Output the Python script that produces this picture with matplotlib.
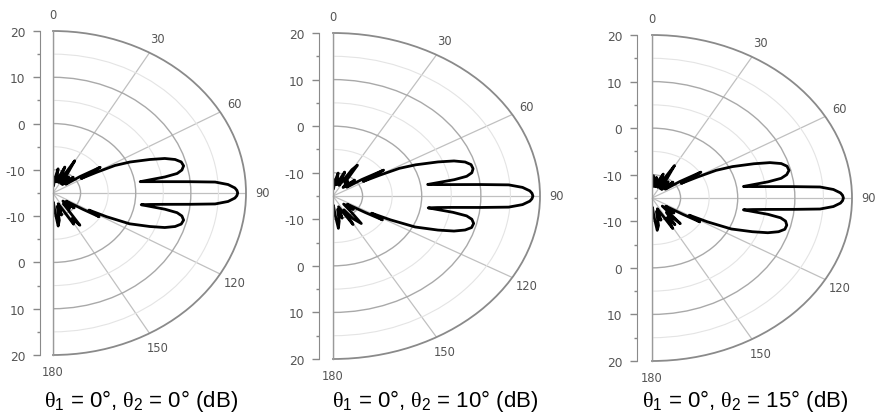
import numpy as np
import matplotlib
matplotlib.use('Agg')
import matplotlib.pyplot as plt

plt.rcParams['font.family'] = ['Liberation Sans', 'DejaVu Sans']
plt.rcParams['mathtext.fontset'] = 'custom'
plt.rcParams['mathtext.rm'] = 'Liberation Sans'
plt.rcParams['mathtext.it'] = 'Liberation Serif'

# angle (deg) of each point, shared by the three panels
angle_deg = [0, 3, 6, 10, 14, 17, 21, 24, 27, 29.5, 32, 35, 39, 43, 47, 51, 54, 57,
             58.5, 60.5, 62.1, 64.4, 67.6, 69.8, 71.9, 73.9, 76.1, 78.0, 79.4, 80.3,
             81.2, 82.1, 83.0, 84.4, 85.4, 86.7, 88.1, 89, 90, 91, 91.9, 93.3, 94.6,
             95.6, 97.0, 98.0, 99.0, 99.8, 100.7, 102.0, 103.9, 106.1, 108.1, 110.2,
             112.4, 115.6, 117.8, 119.5, 121.5, 123, 126, 130, 134, 138, 141, 145,
             148, 151, 154, 158, 162, 165, 169, 172.5, 175, 178, 180]

gain_db_0 = [-11.6, -13.5, -12, -9.7, -12.5, -11.5, -9, -12.5, -11, -7, -10, -12.5,
             -10.5, -12.5, -10, -12, -9, -4.8, -9, -5.9, -2.3, 0.5, 4.0, 6.6, 8.3,
             9.2, 9.4, 8.9, 7.9, 5.6, 1.0, 2.8, 5.1, 10.0, 14.5, 16.8, 18.0, 18.35,
             18.5, 18.35, 18.0, 16.8, 14.5, 10.0, 5.1, 2.8, 1.2, 5.6, 7.9, 8.9, 9.4,
             9.2, 8.3, 6.6, 4.0, 0.4, -4, -7.5, -5.2, -8.5, -12, -10, -12.5, -10.5,
             -12, -6.5, -8.5, -7.3, -11, -12.5, -10, -12, -9, -7.8, -11, -13, -12.5]

gain_db_10 = [-11.5, -13.5, -11.8, -10, -12.5, -11.5, -9.5, -12.5, -11.5, -8.5, -7.2,
              -11.5, -11, -12.5, -10, -12, -9, -4.8, -9, -5.9, -2.3, 0.5, 4.2, 6.8,
              8.5, 9.3, 9.4, 9.0, 8.0, 5.8, 1.2, 2.8, 5.1, 10.2, 14.8, 17.1, 18.3,
              18.65, 18.8, 18.65, 18.3, 17.1, 14.8, 10.2, 5.1, 2.8, 1.3, 5.6, 8.0,
              9.0, 9.5, 9.4, 8.5, 6.8, 4.2, 0.4, -4, -7.5, -5.2, -8.5, -12, -10.5,
              -12.5, -10.5, -7.4, -9, -11.5, -8, -11, -12.5, -10, -12, -9.5, -8, -11,
              -13, -12.5]

gain_db_15 = [-11.5, -10.2, -12.5, -10.5, -12.5, -11, -9.5, -12.5, -10.5, -7, -10,
              -12.5, -10.5, -12.5, -10, -12, -9, -4.8, -9, -5.9, -2.3, 0.6, 4.3, 7.0,
              8.8, 9.6, 9.7, 9.1, 8.0, 5.6, 1.2, 2.8, 5.1, 10.0, 14.5, 16.8, 18.0,
              18.35, 18.5, 18.35, 18.0, 16.8, 14.5, 10.0, 5.1, 2.8, 1.2, 5.6, 7.9,
              8.9, 9.3, 9.2, 8.3, 6.6, 4.0, 0.4, -4, -7.5, -5.2, -8.5, -12, -10,
              -12.5, -7.6, -11, -8, -10, -7.5, -11, -12.5, -10, -12, -9, -8, -11,
              -13, -12.5]

panel_gains = [gain_db_0, gain_db_10, gain_db_15]
panel_titles = [r'$\theta_1$ = 0°, $\theta_2$ = 0° (dB)',
                r'$\theta_1$ = 0°, $\theta_2$ = 10° (dB)',
                r'$\theta_1$ = 0°, $\theta_2$ = 15° (dB)']

theta_ticks = [0, 30, 60, 90, 120, 150, 180]
theta_minor = [15, 45, 75, 105, 135, 165]
r_major = [-10, 0, 10]
r_minor = [-5, 5, 15]
scale_major = [20, 10, 0, -10]
scale_minor = [15, 5, -5, -15]
r_min, r_max = -15, 20

W, H = 883, 414
fig = plt.figure(figsize=(W / 100, H / 100), dpi=100)

# centre x, centre y (px from top), half width, half height, x of the dB scale, title x
layout = [(53, 194, 193, 162, 40, 141),
          (333, 197, 207, 163, 319, 435),
          (652, 199, 200, 163, 637, 745)]

for (cx, cy, rx, ry, lx, tx), gains, title in zip(layout, panel_gains, panel_titles):
    # the half-disc sits in the middle half of the axes box
    ax = fig.add_axes([(cx - 0.5 * rx) / W, (H - cy - ry) / H, 2 * rx / W, 2 * ry / H],
                      projection='polar')
    ax.set_theta_zero_location('N')
    ax.set_theta_direction(-1)
    ax.set_thetamin(0)
    ax.set_thetamax(180)
    ax.set_aspect('auto')
    ax.set_rlim(r_min, r_max)
    ax.set_rticks(r_major)
    ax.set_yticks(r_minor, minor=True)
    ax.set_yticklabels([])
    ax.tick_params(axis='y', which='both', length=0)
    ax.yaxis.grid(True, which='major', color='#a9a9a9', lw=1.0)
    ax.yaxis.grid(True, which='minor', color='#e4e4e4', lw=0.8)

    ax.set_thetagrids(theta_ticks, [str(t) for t in theta_ticks],
                      family='DejaVu Sans', fontsize=8.3, color='#555555')
    ax.set_xticks(np.deg2rad(theta_minor), minor=True)
    ax.xaxis.grid(True, which='major', color='#c0c0c0', lw=0.9)
    ax.tick_params(axis='x', which='major', length=0, pad=5)
    ax.tick_params(axis='x', which='minor', direction='in', length=3, width=1,
                   color='#888888')
    ax.spines['polar'].set_color('#8a8a8a')
    ax.spines['polar'].set_linewidth(1.3)
    for s in ['start', 'end']:
        ax.spines[s].set_color('#9a9a9a')
        ax.spines[s].set_linewidth(1.0)

    ax.plot(np.deg2rad(angle_deg), gains, color='black', lw=2.0)

    # dB scale on the left, mirrored about the centre
    sx = fig.add_axes([lx / W, (H - cy - ry) / H, 0.001, 2 * ry / H])
    span = r_max - r_min
    sx.set_ylim(-span, span)
    sx.set_yticks([v - r_min for v in scale_major] + [r_min - v for v in scale_major])
    sx.set_yticklabels([str(v) for v in scale_major] * 2, family='DejaVu Sans',
                       fontsize=8.8, color='#555555')
    sx.set_yticks([v - r_min for v in scale_minor] + [r_min - v for v in scale_minor[:-1]],
                  minor=True)
    sx.tick_params(axis='y', which='major', length=5, width=1, color='#888888', pad=5.5)
    sx.tick_params(axis='y', which='minor', length=2.5, width=1, color='#888888')
    sx.set_xticks([])
    for s in ['top', 'right', 'bottom']:
        sx.spines[s].set_visible(False)
    sx.spines['left'].set_color('#8a8a8a')
    sx.patch.set_visible(False)

    fig.text(tx / W, 1 - 407 / H, title, ha='center', va='baseline', fontsize=16)

fig.savefig('out.png', dpi=100)
